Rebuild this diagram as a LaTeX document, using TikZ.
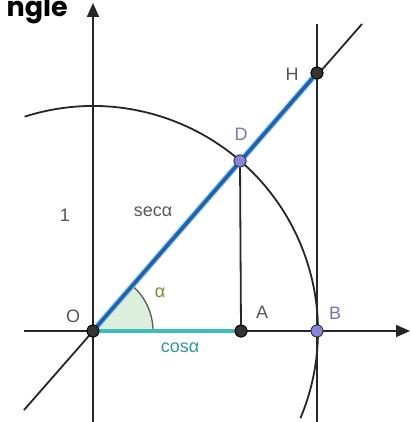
\documentclass[tikz,border=0pt]{standalone}
\usepackage{fontspec}
\setmainfont{Liberation Sans}
\newfontfamily\titlefont{Poppins}
\usetikzlibrary{arrows.meta}
\definecolor{secblue}{HTML}{1F64A8}
\definecolor{secglow}{HTML}{9CC8EE}
\definecolor{costeal}{HTML}{3CBDBD}
\definecolor{ptlav}{HTML}{8585DD}
\definecolor{lblgray}{HTML}{555555}
\definecolor{lbllav}{HTML}{7777B5}
\definecolor{alphagreen}{HTML}{7A8A2A}
\definecolor{sector}{HTML}{DDF0DD}
\tikzset{
  thinline/.style={line width=1.8pt, draw=black!85},
  axisline/.style={line width=1.8pt, draw=black!85, -{Triangle[length=14pt,width=12pt]}},
  darkpt/.style={circle, fill=black!80, draw=black, line width=0.8pt, minimum size=12pt, inner sep=0pt},
  lavpt/.style={circle, fill=ptlav, draw=black!80, line width=0.8pt, minimum size=12pt, inner sep=0pt},
  lbl/.style={text=lblgray, font=\fontsize{18}{20}\selectfont, inner sep=0pt},
}
\begin{document}
\begin{tikzpicture}[x=1pt,y=-1pt]
\useasboundingbox (0,0) rectangle (410,422);
\clip (0,0) rectangle (410,422);
% coordinates
\coordinate (Oc) at (93,331);
\coordinate (yb) at (93,422);
\coordinate (yt) at (93,3);
\coordinate (xl) at (24,331);
\coordinate (xr) at (410,331);
\coordinate (vt) at (317,24);
\coordinate (vb) at (317,422);
\coordinate (lbl1) at (24,410);
\coordinate (ltr) at (362,24);
% angle sector (y axis points down, so angles are negated)
\fill[sector] (Oc) -- (153,331) arc[start angle=0, end angle=-49, radius=60] -- cycle;
\draw[line width=1.3pt, draw=black!65] (153,331) arc[start angle=0, end angle=-49, radius=60];
% circle arc
\draw[thinline] (Oc) ++(-107.7:225) arc[start angle=-107.7, end angle=22.8, radius=225];
% axes
\draw[axisline] (yb) -- (yt);
\draw[axisline] (xl) -- (xr);
% line through O
\draw[thinline] (lbl1) -- (ltr);
% tangent vertical
\draw[thinline] (vt) -- (vb);
% points
\node[darkpt] (O) at (93,331) {};
\node[darkpt] (A) at (241,331) {};
\node[lavpt] (B) at (317,331) {};
\node[lavpt] (D) at (240,161) {};
\node[darkpt] (H) at (317,73) {};
% D to A
\draw[thinline] (D) -- (A);
% sec segment
\draw[secglow, line width=6pt] (O.center) -- (H.center);
\draw[secblue, line width=3.6pt] (O.center) -- (H.center);
% cos segment
\draw[costeal, line width=4pt] (O.center) -- (A.center);
% redraw points on top
\node[darkpt] at (O) {};
\node[darkpt] at (A) {};
\node[lavpt] at (B) {};
\node[lavpt] at (D) {};
\node[darkpt] at (H) {};
% labels
\node[lbl] (tH) at (292,74) {H};
\node[lbl, text=lbllav] (tD) at (241,134) {D};
\node[lbl] (t1) at (65,215) {1};
\node[lbl, text=black!65] (tsec) at (153,212) {secα};
\node[lbl, text=alphagreen] (talpha) at (160,293) {α};
\node[lbl] (tO) at (73,316) {O};
\node[lbl] (tA) at (262,312) {A};
\node[lbl, text=lbllav] (tB) at (335,313) {B};
\node[lbl, text=costeal!80!black] (tcos) at (180,348) {cosα};
\node[anchor=base east, inner sep=0pt, font=\titlefont\bfseries\fontsize{27}{30}\selectfont] (title) at (68,17) {ngle};
\end{tikzpicture}
\end{document}
